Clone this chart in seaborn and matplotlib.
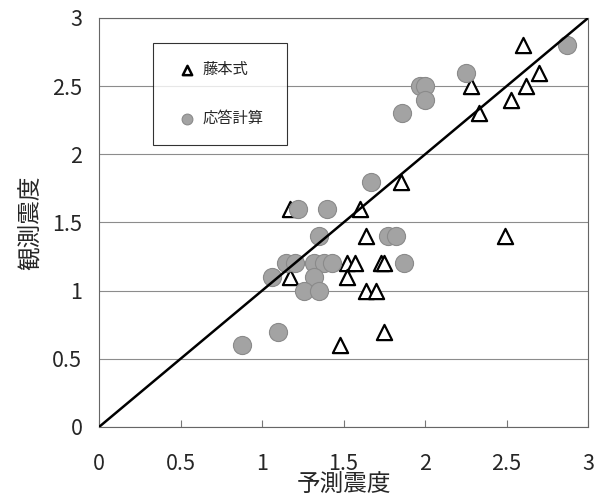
import numpy as np
import pandas as pd
import seaborn as sns
import matplotlib.pyplot as plt

# 藤本式 (triangles)
fuji_x = [2.6, 2.7, 2.62, 2.53, 2.28, 2.33, 1.85, 1.17, 1.6, 1.64, 1.52,
          1.57, 1.73, 1.75, 1.17, 1.52, 1.64, 1.7, 1.75, 1.48, 2.49]
fuji_y = [2.8, 2.6, 2.5, 2.4, 2.5, 2.3, 1.8, 1.6, 1.6, 1.4, 1.2,
          1.2, 1.2, 1.2, 1.1, 1.1, 1.0, 1.0, 0.7, 0.6, 1.4]

# 応答計算 (circles)
resp_x = [2.87, 2.25, 1.97, 2.0, 2.0, 1.86, 1.67, 1.22, 1.4, 1.35, 1.77, 1.82,
          1.15, 1.2, 1.32, 1.38, 1.43, 1.87, 1.06, 1.32, 1.26, 1.35, 1.1, 0.88]
resp_y = [2.8, 2.6, 2.5, 2.5, 2.4, 2.3, 1.8, 1.6, 1.6, 1.4, 1.4, 1.4,
          1.2, 1.2, 1.2, 1.2, 1.2, 1.2, 1.1, 1.1, 1.0, 1.0, 0.7, 0.6]

diag = [0, 3]
ticks = [0, 0.5, 1, 1.5, 2, 2.5, 3]
tick_labels = ['0', '0.5', '1', '1.5', '2', '2.5', '3']

sns.set_style('white')
plt.rcParams['font.family'] = ['Noto Sans CJK JP', 'DejaVu Sans']

fig = plt.figure(figsize=(5.95, 5.04), dpi=100)
ax = fig.add_axes([0.1664, 0.1528, 0.822, 0.8115])

df_f = pd.DataFrame({'x': fuji_x, 'y': fuji_y})
df_r = pd.DataFrame({'x': resp_x, 'y': resp_y})

sns.scatterplot(data=df_f, x='x', y='y', ax=ax, marker='^', s=120,
                facecolor='white', edgecolor='black', linewidth=1.6,
                label='藤本式', zorder=3)
sns.scatterplot(data=df_r, x='x', y='y', ax=ax, marker='o', s=170,
                color='#a3a3a3', edgecolor='#8a8a8a', linewidth=0.8,
                label='応答計算', zorder=4)
ax.plot(diag, diag, color='black', lw=1.8, zorder=5)

ax.set_xlim(0, 3)
ax.set_ylim(0, 3)
ax.set_xticks(ticks)
ax.set_xticklabels(tick_labels)
ax.set_yticks(ticks)
ax.set_yticklabels(tick_labels)
ax.yaxis.grid(True, color='#8c8c8c', lw=0.8)
ax.xaxis.grid(False)
ax.set_axisbelow(True)
ax.tick_params(axis='x', direction='in', length=5, width=0.8, color='#777777',
               labelsize=15.5, pad=19, bottom=True)
ax.tick_params(axis='y', length=0, labelsize=15.5, pad=12)
for sp in ax.spines.values():
    sp.set_color('#666666')
    sp.set_linewidth(0.8)

ax.set_xlabel('予測震度', fontsize=17, labelpad=-1)
ax.set_ylabel('観測震度', fontsize=17, labelpad=7)

leg = ax.legend(loc='upper left', bbox_to_anchor=(0.111, 0.72, 0.274, 0.22),
                mode='expand', frameon=True, fancybox=False, fontsize=11,
                labelspacing=2.1, borderpad=1.2, handletextpad=0.0,
                handlelength=2.0, borderaxespad=0)
leg.get_frame().set_edgecolor('black')
leg.get_frame().set_linewidth(0.8)
leg.legend_handles[0].set_sizes([45])
leg.legend_handles[0].set_linewidth(1.8)
leg.legend_handles[1].set_sizes([60])
leg.set_zorder(10)

fig.savefig('out.png', dpi=100)
